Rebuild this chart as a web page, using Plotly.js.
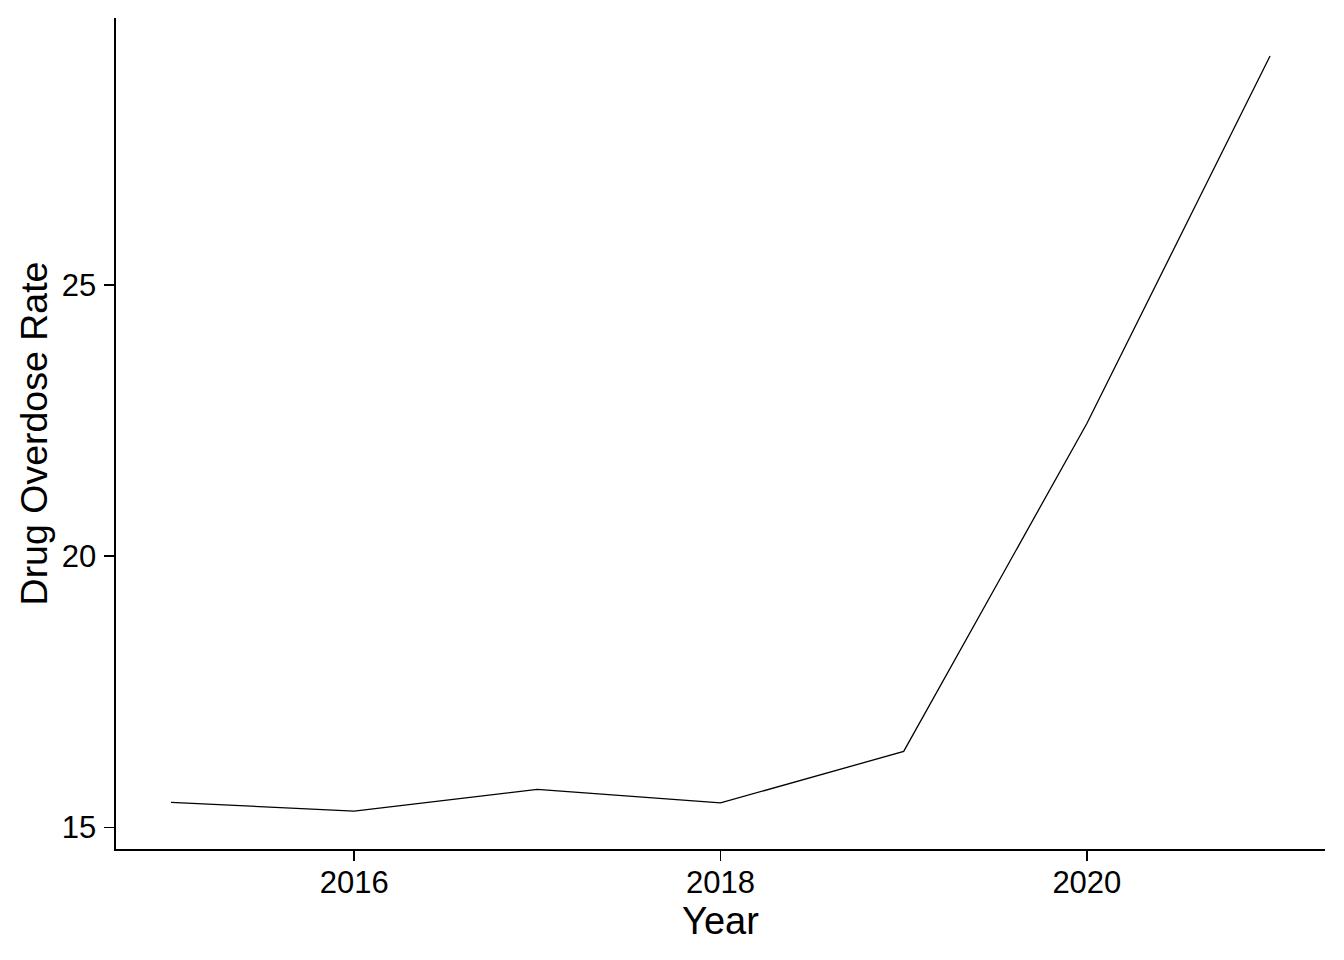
<!DOCTYPE html>
<html>
<head>
<meta charset="utf-8">
<script src="https://cdn.plot.ly/plotly-3.0.1.min.js"></script>
<style>html,body{margin:0;padding:0;background:#fff;}#chart{width:1344px;height:960px;}</style>
</head>
<body>
<div id="chart"></div>
<script>
const years = [2015, 2016, 2017, 2018, 2019, 2020, 2021];
const overdoseRate = [15.46, 15.30, 15.70, 15.45, 16.40, 22.45, 29.23];
const xTickVals = [2016, 2018, 2020];
const yTickVals = [15, 20, 25];
const xTitle = "Year";
const yTitle = "Drug Overdose Rate";

const font = "Liberation Sans, Arial, sans-serif";

Plotly.newPlot("chart", [{
  x: years,
  y: overdoseRate,
  type: "scatter",
  mode: "lines",
  line: {color: "#000000", width: 1.3},
  hoverinfo: "skip"
}], {
  width: 1344,
  height: 960,
  paper_bgcolor: "#ffffff",
  plot_bgcolor: "#ffffff",
  showlegend: false,
  margin: {l: 116, r: 19, t: 18, b: 111},
  font: {family: font, color: "#000000"},
  xaxis: {
    range: [2014.7, 2021.3],
    tickvals: xTickVals,
    ticktext: xTickVals.map(String),
    showgrid: false,
    zeroline: false,
    showline: true,
    linecolor: "#000000",
    linewidth: 1.6,
    ticks: "outside",
    ticklen: 10,
    tickwidth: 1.6,
    tickcolor: "#000000",
    tickfont: {family: font, size: 31, color: "#000000"},
    ticklabelstandoff: -5,
    automargin: false,
    title: {text: xTitle, font: {family: font, size: 38, color: "#000000"}, standoff: 4}
  },
  yaxis: {
    range: [14.60, 29.93],
    tickvals: yTickVals,
    ticktext: yTickVals.map(String),
    showgrid: false,
    zeroline: false,
    showline: true,
    linecolor: "#000000",
    linewidth: 1.6,
    ticks: "outside",
    ticklen: 10,
    tickwidth: 1.6,
    tickcolor: "#000000",
    tickfont: {family: font, size: 31, color: "#000000"},
    ticklabelstandoff: 2,
    automargin: false,
    title: {text: yTitle, font: {family: font, size: 37.5, color: "#000000"}, standoff: 2}
  }
}, {staticPlot: true, displayModeBar: false});
</script>
</body>
</html>
